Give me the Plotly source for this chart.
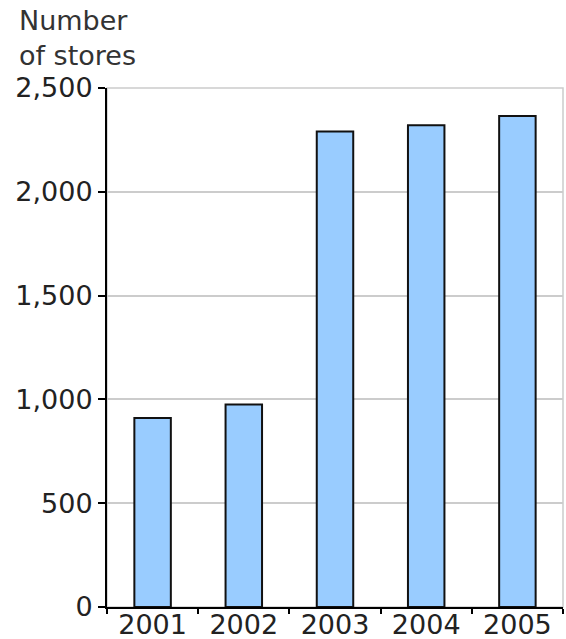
import plotly.graph_objects as go

years = ["2001", "2002", "2003", "2004", "2005"]
stores = [910, 975, 2290, 2320, 2365]
y_ticks = [0, 500, 1000, 1500, 2000, 2500]
y_tick_labels = ["0", "500", "1,000", "1,500", "2,000", "2,500"]

FONT = "DejaVu Sans, Verdana, sans-serif"

fig = go.Figure(go.Bar(
    x=years, y=stores,
    marker=dict(color="#99CCFF", line=dict(color="#111111", width=2)),
    width=0.4,
))

fig.update_layout(
    width=566, height=639,
    margin=dict(l=107, r=3, t=88, b=32, autoexpand=False),
    plot_bgcolor="white", paper_bgcolor="white",
    showlegend=False,
    font=dict(family=FONT, size=27, color="#222222"),
    shapes=[dict(type="rect", xref="paper", yref="paper", x0=0, x1=1, y0=0, y1=1,
                 line=dict(color="#cccccc", width=1.5), layer="below")],
    annotations=[dict(text="Number<br>of stores", xref="paper", yref="paper",
                      x=-0.197, y=1.163, xanchor="left", yanchor="top", align="left",
                      showarrow=False, font=dict(family=FONT, size=27, color="#333333"))],
)
fig.update_xaxes(
    showline=True, linecolor="black", linewidth=2, automargin=False,
    ticks="outside", tickson="boundaries", ticklen=5, tickcolor="black", tickwidth=2,
    ticklabelstandoff=-7,
    showgrid=False, tickfont=dict(size=27, color="#222222"),
)
fig.update_yaxes(
    range=[0, 2500], tickvals=y_ticks, ticktext=y_tick_labels,
    showline=True, linecolor="black", linewidth=2, automargin=False,
    ticks="outside", ticklen=7, tickcolor="black", tickwidth=2,
    showgrid=True, gridcolor="#cccccc", gridwidth=1.5,
    tickfont=dict(size=27, color="#222222"), zeroline=False,
)

fig.write_html("out.html")
